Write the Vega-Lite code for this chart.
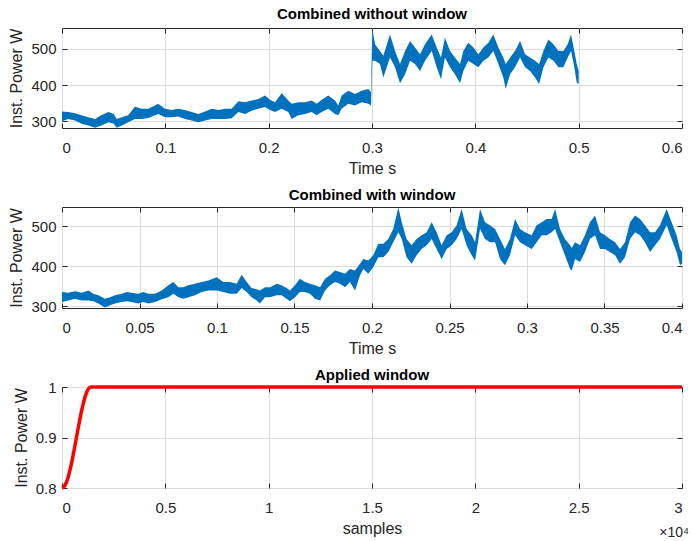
{
  "$schema": "https://vega.github.io/schema/vega-lite/v6.json",
  "background": "white",
  "padding": {"left": 8, "top": 6, "right": 12, "bottom": 0},
  "bounds": "flush",
  "spacing": 79,
  "config": {
    "font": "Liberation Sans Narrow, Liberation Sans, Arial, sans-serif",
    "view": {"stroke": "#262626", "strokeWidth": 1},
    "title": {"fontSize": 15, "fontWeight": "bold", "color": "#000000", "offset": 6, "anchor": "middle"},
    "axis": {
      "domain": false,
      "gridColor": "#dcdcdc",
      "gridWidth": 1,
      "tickColor": "#262626",
      "tickSize": -5,
      "labelColor": "#262626",
      "labelFontSize": 15,
      "titleFontSize": 16,
      "titleFontWeight": "normal",
      "titleColor": "#262626"
    },
    "axisBottom": {"labelPadding": 17},
    "axisLeft": {"labelPadding": 11}
  },
  "datasets": {
    "p1": [
      {"t":0,"lo":300,"hi":327},{"t":0.006,"lo":306,"hi":325},{"t":0.0126,"lo":302,"hi":322},{"t":0.019,"lo":293,"hi":316},{"t":0.0255,"lo":288,"hi":311},{"t":0.032,"lo":282,"hi":306},{"t":0.038,"lo":288,"hi":316},{"t":0.045,"lo":297,"hi":325},{"t":0.05,"lo":293,"hi":320},{"t":0.053,"lo":282,"hi":306},{"t":0.058,"lo":288,"hi":311},{"t":0.064,"lo":297,"hi":316},{"t":0.0706,"lo":306,"hi":340},{"t":0.077,"lo":306,"hi":334},{"t":0.0835,"lo":309,"hi":334},{"t":0.09,"lo":316,"hi":343},{"t":0.093,"lo":320,"hi":348},{"t":0.0997,"lo":311,"hi":334},{"t":0.106,"lo":311,"hi":331},{"t":0.1126,"lo":313,"hi":334},{"t":0.119,"lo":306,"hi":331},{"t":0.1255,"lo":302,"hi":325},{"t":0.132,"lo":297,"hi":320},{"t":0.1384,"lo":302,"hi":327},{"t":0.145,"lo":306,"hi":334},{"t":0.1513,"lo":306,"hi":331},{"t":0.1578,"lo":306,"hi":334},{"t":0.1642,"lo":308,"hi":334},{"t":0.1707,"lo":325,"hi":355},{"t":0.1771,"lo":320,"hi":352},{"t":0.1836,"lo":329,"hi":357},{"t":0.19,"lo":334,"hi":361},{"t":0.1965,"lo":339,"hi":371},{"t":0.2013,"lo":331,"hi":359},{"t":0.2061,"lo":325,"hi":352},{"t":0.2126,"lo":334,"hi":377},{"t":0.219,"lo":325,"hi":357},{"t":0.2223,"lo":306,"hi":348},{"t":0.2287,"lo":316,"hi":352},{"t":0.2352,"lo":320,"hi":352},{"t":0.2416,"lo":325,"hi":357},{"t":0.2465,"lo":316,"hi":348},{"t":0.2513,"lo":325,"hi":359},{"t":0.2577,"lo":334,"hi":371},{"t":0.2642,"lo":320,"hi":357},{"t":0.2674,"lo":316,"hi":343},{"t":0.2706,"lo":334,"hi":371},{"t":0.2771,"lo":348,"hi":384},{"t":0.2835,"lo":343,"hi":375},{"t":0.29,"lo":352,"hi":384},{"t":0.2965,"lo":348,"hi":389},{"t":0.299,"lo":343,"hi":380},{"t":0.3003,"lo":467,"hi":558},{"t":0.3029,"lo":467,"hi":513},{"t":0.3077,"lo":458,"hi":494},{"t":0.311,"lo":421,"hi":481},{"t":0.3174,"lo":476,"hi":540},{"t":0.3223,"lo":449,"hi":494},{"t":0.3271,"lo":405,"hi":458},{"t":0.332,"lo":430,"hi":494},{"t":0.3368,"lo":467,"hi":522},{"t":0.3416,"lo":458,"hi":504},{"t":0.3465,"lo":439,"hi":485},{"t":0.3513,"lo":467,"hi":513},{"t":0.3578,"lo":494,"hi":540},{"t":0.3626,"lo":449,"hi":504},{"t":0.3668,"lo":416,"hi":476},{"t":0.3706,"lo":476,"hi":531},{"t":0.3755,"lo":449,"hi":494},{"t":0.3803,"lo":430,"hi":476},{"t":0.3852,"lo":405,"hi":458},{"t":0.3884,"lo":439,"hi":494},{"t":0.3932,"lo":467,"hi":517},{"t":0.3981,"lo":458,"hi":504},{"t":0.4029,"lo":449,"hi":485},{"t":0.4078,"lo":467,"hi":504},{"t":0.4126,"lo":476,"hi":517},{"t":0.4174,"lo":494,"hi":540},{"t":0.4223,"lo":458,"hi":504},{"t":0.4271,"lo":421,"hi":476},{"t":0.4294,"lo":389,"hi":458},{"t":0.4336,"lo":430,"hi":476},{"t":0.4384,"lo":449,"hi":494},{"t":0.4433,"lo":476,"hi":522},{"t":0.4481,"lo":449,"hi":485},{"t":0.4529,"lo":439,"hi":476},{"t":0.4578,"lo":421,"hi":467},{"t":0.4617,"lo":403,"hi":458},{"t":0.4659,"lo":449,"hi":494},{"t":0.4707,"lo":476,"hi":526},{"t":0.4756,"lo":467,"hi":513},{"t":0.4804,"lo":449,"hi":494},{"t":0.4852,"lo":449,"hi":494},{"t":0.4894,"lo":476,"hi":513},{"t":0.4926,"lo":494,"hi":540},{"t":0.4958,"lo":449,"hi":494},{"t":0.4981,"lo":407,"hi":458},{"t":0.5,"lo":403,"hi":439}
    ],
    "p2": [
      {"t":0,"lo":310,"hi":335},{"t":0.0041,"lo":314,"hi":333},{"t":0.0084,"lo":318,"hi":337},{"t":0.0127,"lo":314,"hi":333},{"t":0.017,"lo":314,"hi":339},{"t":0.0202,"lo":312,"hi":331},{"t":0.0234,"lo":306,"hi":327},{"t":0.0277,"lo":296,"hi":318},{"t":0.031,"lo":302,"hi":322},{"t":0.0342,"lo":306,"hi":327},{"t":0.0385,"lo":310,"hi":331},{"t":0.0417,"lo":312,"hi":335},{"t":0.0449,"lo":310,"hi":333},{"t":0.0492,"lo":306,"hi":331},{"t":0.0525,"lo":310,"hi":335},{"t":0.0557,"lo":306,"hi":331},{"t":0.06,"lo":310,"hi":331},{"t":0.0643,"lo":317,"hi":339},{"t":0.0686,"lo":322,"hi":352},{"t":0.0718,"lo":331,"hi":360},{"t":0.0751,"lo":322,"hi":347},{"t":0.0783,"lo":318,"hi":347},{"t":0.0815,"lo":322,"hi":352},{"t":0.0858,"lo":327,"hi":356},{"t":0.0901,"lo":335,"hi":360},{"t":0.0944,"lo":339,"hi":364},{"t":0.0998,"lo":339,"hi":372},{"t":0.104,"lo":335,"hi":360},{"t":0.1084,"lo":331,"hi":360},{"t":0.1127,"lo":331,"hi":356},{"t":0.1159,"lo":345,"hi":378},{"t":0.1192,"lo":335,"hi":360},{"t":0.1223,"lo":322,"hi":345},{"t":0.1256,"lo":314,"hi":342},{"t":0.1277,"lo":306,"hi":339},{"t":0.131,"lo":322,"hi":347},{"t":0.1342,"lo":322,"hi":347},{"t":0.1385,"lo":327,"hi":356},{"t":0.1417,"lo":327,"hi":352},{"t":0.1449,"lo":318,"hi":345},{"t":0.1471,"lo":312,"hi":339},{"t":0.1503,"lo":322,"hi":352},{"t":0.1535,"lo":335,"hi":368},{"t":0.1568,"lo":335,"hi":360},{"t":0.16,"lo":331,"hi":356},{"t":0.1632,"lo":318,"hi":352},{"t":0.1665,"lo":314,"hi":347},{"t":0.1697,"lo":339,"hi":368},{"t":0.1729,"lo":352,"hi":377},{"t":0.1761,"lo":360,"hi":389},{"t":0.1794,"lo":356,"hi":385},{"t":0.1826,"lo":347,"hi":381},{"t":0.1858,"lo":360,"hi":393},{"t":0.189,"lo":339,"hi":389},{"t":0.1923,"lo":377,"hi":406},{"t":0.1944,"lo":393,"hi":418},{"t":0.1976,"lo":381,"hi":414},{"t":0.2008,"lo":397,"hi":427},{"t":0.2041,"lo":422,"hi":456},{"t":0.2073,"lo":422,"hi":456},{"t":0.2105,"lo":435,"hi":468},{"t":0.2137,"lo":460,"hi":493},{"t":0.217,"lo":485,"hi":547},{"t":0.2192,"lo":468,"hi":510},{"t":0.2223,"lo":422,"hi":468},{"t":0.2256,"lo":406,"hi":452},{"t":0.2288,"lo":427,"hi":468},{"t":0.232,"lo":443,"hi":477},{"t":0.2353,"lo":452,"hi":485},{"t":0.2385,"lo":468,"hi":510},{"t":0.2417,"lo":443,"hi":485},{"t":0.2449,"lo":418,"hi":452},{"t":0.2482,"lo":443,"hi":477},{"t":0.2514,"lo":452,"hi":485},{"t":0.2546,"lo":468,"hi":502},{"t":0.2578,"lo":493,"hi":543},{"t":0.261,"lo":452,"hi":493},{"t":0.2643,"lo":427,"hi":477},{"t":0.2665,"lo":414,"hi":460},{"t":0.2697,"lo":493,"hi":543},{"t":0.2729,"lo":468,"hi":510},{"t":0.2761,"lo":460,"hi":502},{"t":0.2794,"lo":460,"hi":493},{"t":0.2826,"lo":418,"hi":468},{"t":0.2858,"lo":402,"hi":443},{"t":0.289,"lo":427,"hi":468},{"t":0.2923,"lo":477,"hi":518},{"t":0.2955,"lo":460,"hi":493},{"t":0.2987,"lo":452,"hi":485},{"t":0.303,"lo":443,"hi":477},{"t":0.3062,"lo":460,"hi":502},{"t":0.3095,"lo":477,"hi":510},{"t":0.3127,"lo":477,"hi":518},{"t":0.3159,"lo":485,"hi":518},{"t":0.3181,"lo":493,"hi":543},{"t":0.3213,"lo":460,"hi":493},{"t":0.3245,"lo":427,"hi":468},{"t":0.3278,"lo":393,"hi":452},{"t":0.3289,"lo":389,"hi":445},{"t":0.331,"lo":418,"hi":460},{"t":0.3342,"lo":410,"hi":452},{"t":0.3374,"lo":435,"hi":477},{"t":0.3406,"lo":468,"hi":510},{"t":0.3439,"lo":477,"hi":527},{"t":0.3471,"lo":443,"hi":485},{"t":0.3503,"lo":443,"hi":477},{"t":0.3535,"lo":435,"hi":468},{"t":0.3568,"lo":427,"hi":460},{"t":0.36,"lo":406,"hi":443},{"t":0.3632,"lo":422,"hi":460},{"t":0.3665,"lo":468,"hi":510},{"t":0.3697,"lo":485,"hi":527},{"t":0.3729,"lo":477,"hi":518},{"t":0.3761,"lo":460,"hi":502},{"t":0.3794,"lo":435,"hi":485},{"t":0.3826,"lo":452,"hi":485},{"t":0.3858,"lo":468,"hi":502},{"t":0.3901,"lo":502,"hi":543},{"t":0.3933,"lo":468,"hi":510},{"t":0.3965,"lo":435,"hi":477},{"t":0.3987,"lo":402,"hi":443},{"t":0.4,"lo":406,"hi":435}
    ],
    "win": [
      {"n":0,"w":0.8},{"n":100,"w":0.8025},{"n":200,"w":0.8099},{"n":300,"w":0.8218},{"n":400,"w":0.8377},{"n":500,"w":0.8566},{"n":600,"w":0.8778},{"n":700,"w":0.9},{"n":800,"w":0.9222},{"n":900,"w":0.9434},{"n":1000,"w":0.9623},{"n":1100,"w":0.9782},{"n":1200,"w":0.9901},{"n":1300,"w":0.9975},{"n":1400,"w":1.0},{"n":30000,"w":1.0}
    ],
    "note": [{"lbl": "×10⁴"}]
  },
  "vconcat": [
    {
      "title": "Combined without window",
      "width": 620,
      "height": 100,
      "data": {"name": "p1"},
      "resolve": {"axis": {"x": "independent", "y": "independent"}},
      "layer": [
        {
          "mark": {"type": "area", "color": "#0072BD", "clip": true},
          "encoding": {
            "x": {"field": "t", "type": "quantitative", "scale": {"domain": [0, 0.6], "nice": false},
                  "axis": {"orient": "bottom", "title": "Time s", "values": [0,0.1,0.2,0.3,0.4,0.5,0.6], "format": "~g", "titlePadding": 5}},
            "y": {"field": "lo", "type": "quantitative", "scale": {"domain": [281, 558], "nice": false, "zero": false},
                  "axis": {"orient": "left", "title": "Inst. Power W", "values": [300,400,500], "titlePadding": 6}},
            "y2": {"field": "hi"}
          }
        },
        {
          "mark": {"type": "point", "opacity": 0, "size": 0},
          "encoding": {
            "x": {"field": "t", "type": "quantitative", "axis": {"orient": "top", "values": [0,0.1,0.2,0.3,0.4,0.5,0.6], "labels": false, "grid": false, "title": null}},
            "y": {"field": "lo", "type": "quantitative", "axis": {"orient": "right", "values": [300,400,500], "labels": false, "grid": false, "title": null}}
          }
        }
      ]
    },
    {
      "title": {"text": "Combined with window", "offset": 4},
      "width": 620,
      "height": 101,
      "data": {"name": "p2"},
      "resolve": {"axis": {"x": "independent", "y": "independent"}},
      "layer": [
        {
          "mark": {"type": "area", "color": "#0072BD", "clip": true},
          "encoding": {
            "x": {"field": "t", "type": "quantitative", "scale": {"domain": [0, 0.4], "nice": false},
                  "axis": {"orient": "bottom", "title": "Time s", "values": [0,0.05,0.1,0.15,0.2,0.25,0.3,0.35,0.4], "format": "~g", "titlePadding": 5}},
            "y": {"field": "lo", "type": "quantitative", "scale": {"domain": [295, 548], "nice": false, "zero": false},
                  "axis": {"orient": "left", "title": "Inst. Power W", "values": [300,400,500], "titlePadding": 6}},
            "y2": {"field": "hi"}
          }
        },
        {
          "mark": {"type": "point", "opacity": 0, "size": 0},
          "encoding": {
            "x": {"field": "t", "type": "quantitative", "axis": {"orient": "top", "values": [0,0.05,0.1,0.15,0.2,0.25,0.3,0.35,0.4], "labels": false, "grid": false, "title": null}},
            "y": {"field": "lo", "type": "quantitative", "axis": {"orient": "right", "values": [300,400,500], "labels": false, "grid": false, "title": null}}
          }
        }
      ]
    },
    {
      "title": {"text": "Applied window", "offset": -3},
      "width": 620,
      "height": 101,
      "resolve": {"axis": {"x": "independent", "y": "independent"}},
      "layer": [
        {
          "data": {"name": "win"},
          "mark": {"type": "line", "color": "#ff0000", "strokeWidth": 3.5, "interpolate": "monotone"},
          "encoding": {
            "x": {"field": "n", "type": "quantitative", "scale": {"domain": [0, 30000], "nice": false},
                  "axis": {"orient": "bottom", "title": "samples", "values": [0,5000,10000,15000,20000,25000,30000], "labelExpr": "format(datum.value/10000, '~g')", "titlePadding": 5}},
            "y": {"field": "w", "type": "quantitative", "scale": {"domain": [0.8, 1.0], "nice": false, "zero": false},
                  "axis": {"orient": "left", "title": "Inst. Power W", "values": [0.8,0.9,1], "format": "~g", "titlePadding": 6}}
          }
        },
        {
          "data": {"name": "win"},
          "mark": {"type": "point", "opacity": 0, "size": 0},
          "encoding": {
            "x": {"field": "n", "type": "quantitative", "axis": {"orient": "top", "values": [0,5000,10000,15000,20000,25000,30000], "labels": false, "grid": false, "title": null}},
            "y": {"field": "w", "type": "quantitative", "axis": {"orient": "right", "values": [0.8,0.9,1], "labels": false, "grid": false, "title": null}}
          }
        },
        {
          "data": {"name": "note"},
          "mark": {"type": "text", "fontSize": 14, "color": "#262626", "align": "right", "baseline": "middle", "dx": 7, "dy": 45},
          "encoding": {
            "x": {"datum": 30000, "type": "quantitative", "axis": null},
            "y": {"datum": 0.8, "type": "quantitative", "axis": null},
            "text": {"field": "lbl"}
          }
        }
      ]
    }
  ]
}
